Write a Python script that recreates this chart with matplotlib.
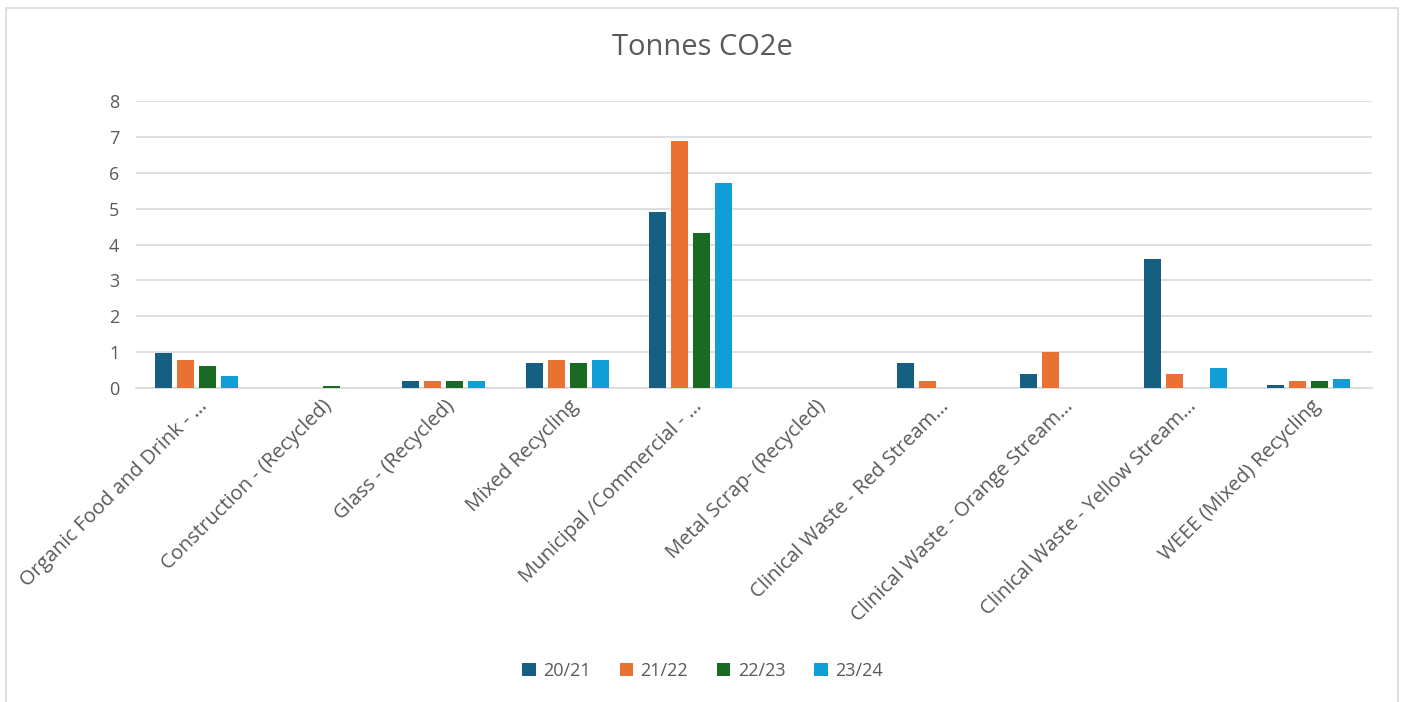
import numpy as np
import matplotlib
matplotlib.use('Agg')
import matplotlib.pyplot as plt
from matplotlib.patches import Rectangle

categories = ['Organic Food and Drink - …', 'Construction - (Recycled)', 'Glass - (Recycled)',
              'Mixed Recycling', 'Municipal /Commercial - …', 'Metal Scrap- (Recycled)',
              'Clinical Waste - Red Stream…', 'Clinical Waste - Orange Stream…',
              'Clinical Waste - Yellow Stream…', 'WEEE (Mixed) Recycling']
years = ['20/21', '21/22', '22/23', '23/24']
v2021 = [0.98, 0, 0.2, 0.7, 4.9, 0, 0.7, 0.4, 3.59, 0.08]
v2122 = [0.78, 0, 0.2, 0.78, 6.88, 0, 0.2, 1.0, 0.4, 0.2]
v2223 = [0.6, 0.05, 0.2, 0.7, 4.32, 0, 0, 0, 0, 0.2]
v2324 = [0.33, 0, 0.2, 0.78, 5.71, 0, 0, 0, 0.57, 0.26]
colors = ['#156082', '#E97132', '#196B24', '#0F9ED5']

plt.rcParams['font.family'] = ['Open Sans', 'DejaVu Sans']
grey = '#595959'

fig = plt.figure(figsize=(14.05, 7.02), dpi=100)
ax = fig.add_axes([0.0968, 0.4473, 0.8797, 0.4088])
fig.patches.append(Rectangle((0.004, -0.01), 0.991, 0.998, transform=fig.transFigure,
                             fill=False, edgecolor='#d9d9d9', linewidth=1.2))

x = np.arange(len(categories))
pitch = 0.178
bw = 0.138
for k, (vals, lab) in enumerate(zip([v2021, v2122, v2223, v2324], years)):
    ax.bar(x + (k - 1.5) * pitch - 0.01, vals, bw, color=colors[k], label=lab, zorder=3)

ax.set_xlim(-0.5, len(categories) - 0.5)
ax.set_ylim(0, 8)
ax.set_yticks(range(0, 9))
ax.grid(axis='y', color='#d9d9d9', linewidth=1.2, zorder=0)
for s in ['top', 'right', 'left']:
    ax.spines[s].set_visible(False)
ax.spines['bottom'].set_color('#d9d9d9')
ax.spines['bottom'].set_linewidth(1.2)
ax.tick_params(axis='both', length=0, colors=grey, labelsize=13)
ax.tick_params(axis='y', pad=12)
ax.tick_params(axis='x', pad=6, labelsize=14.5)
ax.set_xticks(x)
ax.set_xticklabels(categories, rotation=45, ha='right', rotation_mode='anchor')

fig.text(0.5, 0.932, 'Tonnes CO2e', ha='center', va='center', fontsize=21, color=grey)
fig.legend(loc='center', bbox_to_anchor=(0.5, 0.044), ncol=4, frameon=False,
           fontsize=13, labelcolor=grey, handlelength=0.75, handleheight=0.75,
           columnspacing=1.6, handletextpad=0.4)

fig.savefig('out.png', dpi=100)
